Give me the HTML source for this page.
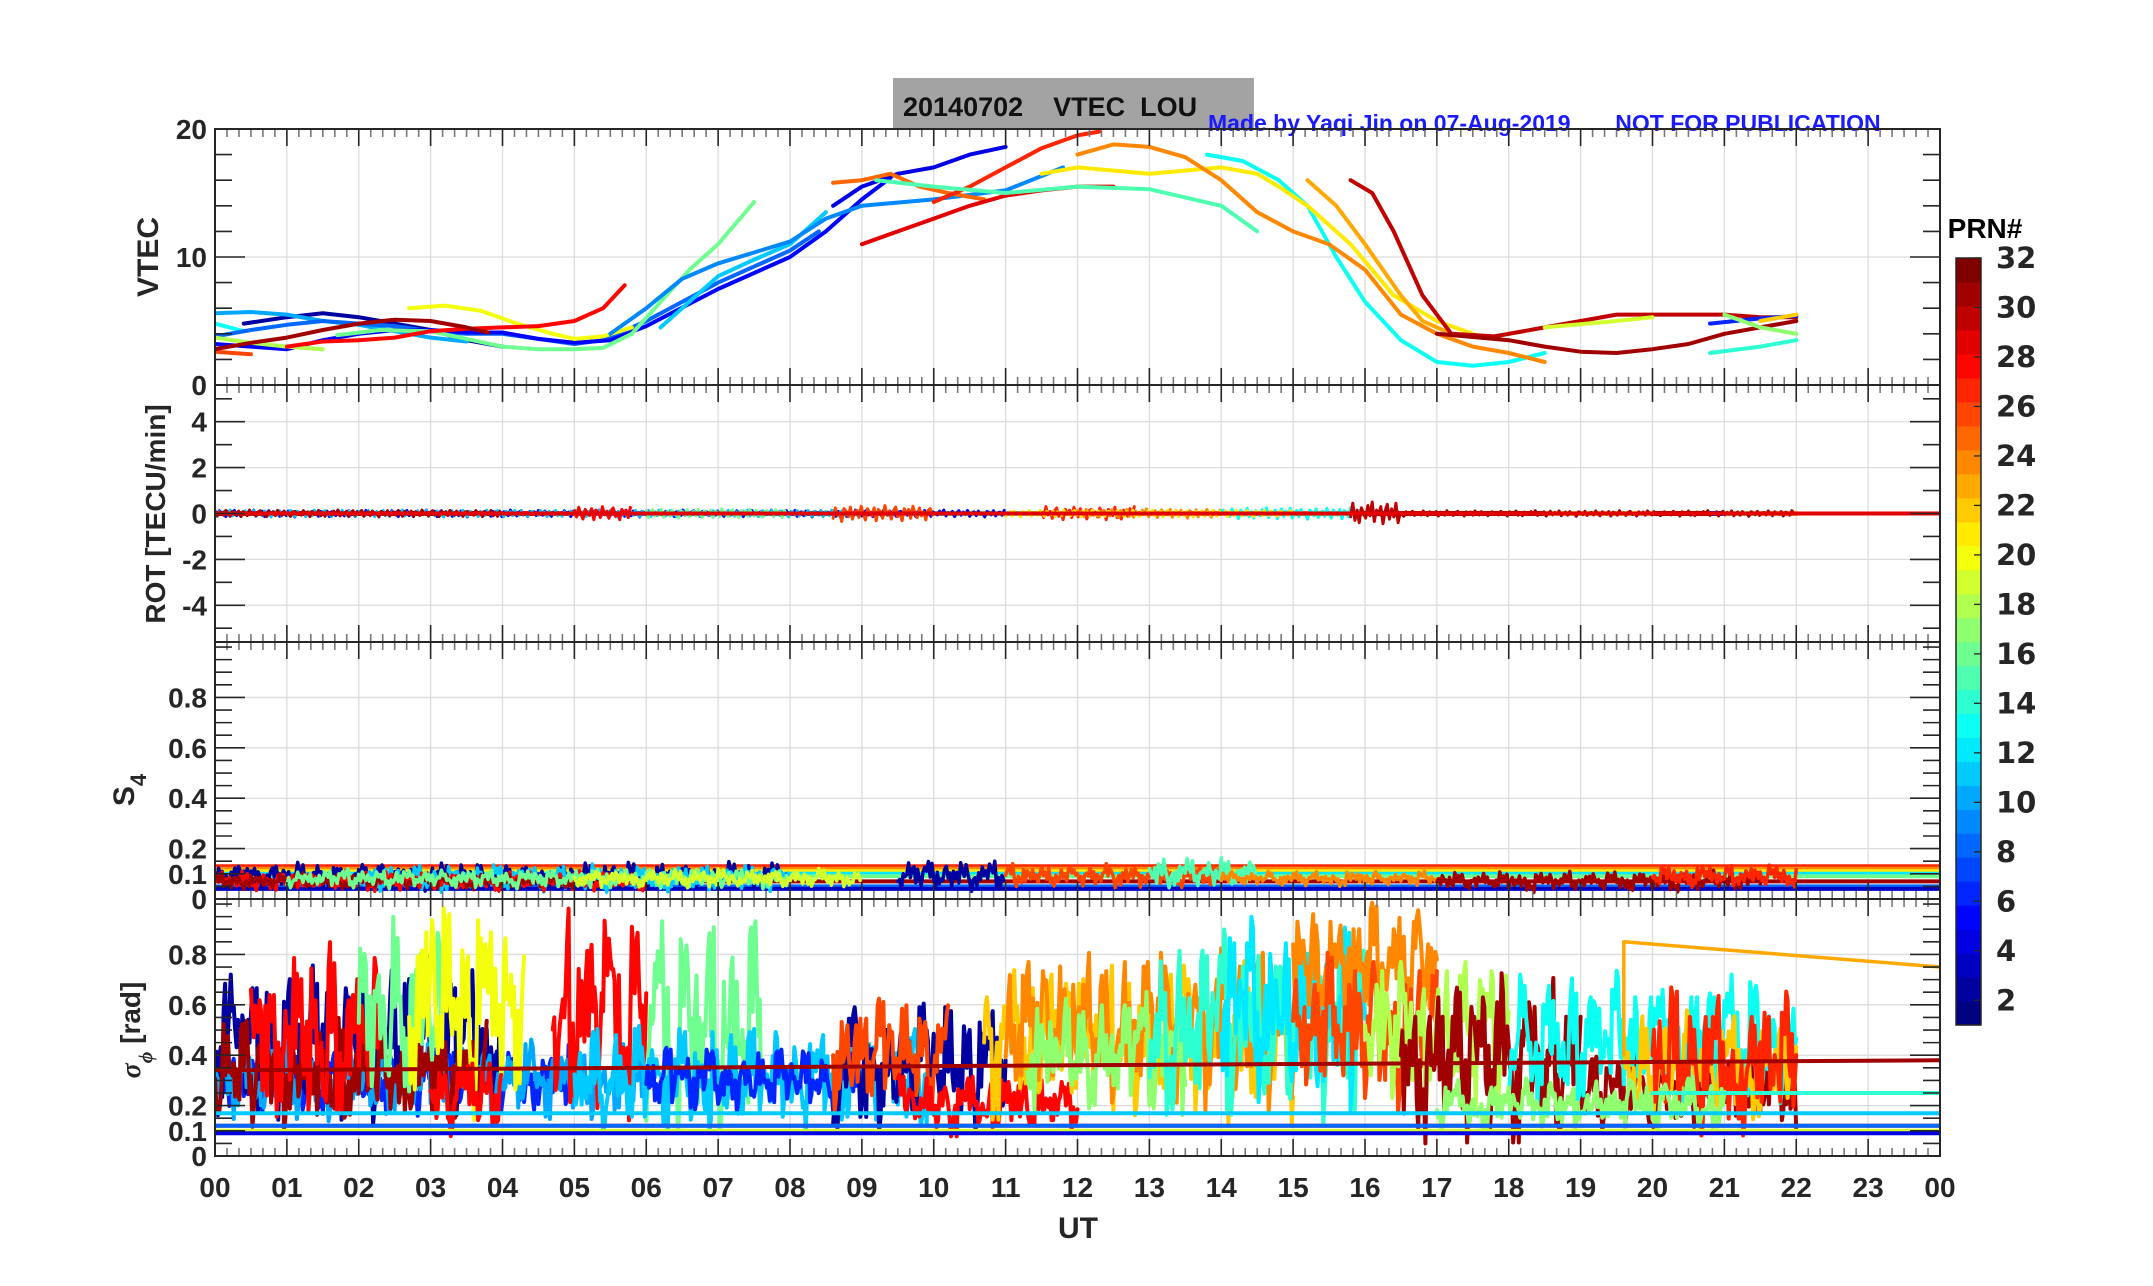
<!DOCTYPE html>
<html><head><meta charset="utf-8">
<style>
html,body{margin:0;padding:0;background:#fff;}
svg{display:block;}
text{font-family:"Liberation Sans Narrow","Liberation Sans",sans-serif;font-weight:bold;fill:#262626;}
</style></head>
<body>
<svg id="chart" width="2153" height="1286" viewBox="0 0 2153 1286" xmlns="http://www.w3.org/2000/svg">
<rect x="893" y="78" width="361" height="52" fill="#a3a3a3"/>
<text x="903" y="116" font-size="27" xml:space="preserve" style="fill:#111;font-family:'Liberation Sans',sans-serif;white-space:pre">20140702    VTEC  LOU</text>
<text x="1208" y="131" font-size="23" xml:space="preserve" style="fill:#1a1aff;font-family:'Liberation Sans',sans-serif;white-space:pre">Made by Yaqi Jin on 07-Aug-2019       NOT FOR PUBLICATION</text>
<g id="plots"></g>
<text x="1078" y="1238" font-size="30" text-anchor="middle" style="font-family:'Liberation Sans',sans-serif">UT</text>
<text transform="translate(158,257) rotate(-90)" font-size="30" text-anchor="middle" style="font-family:'Liberation Sans',sans-serif">VTEC</text>
<text transform="translate(165,514) rotate(-90)" font-size="28" text-anchor="middle" style="font-family:'Liberation Sans',sans-serif">ROT [TECU/min]</text>
<text transform="translate(134,790) rotate(-90)" font-size="30" text-anchor="middle" style="font-family:'Liberation Sans',sans-serif">S<tspan font-size="22" dy="12">4</tspan></text>
<text transform="translate(140,1030) rotate(-90)" font-size="28" text-anchor="middle" style="font-family:'Liberation Sans',sans-serif"><tspan font-style="italic" font-family="Liberation Serif">σ</tspan><tspan font-size="20" dy="12" font-style="italic" font-family="Liberation Serif">ϕ</tspan><tspan dy="-12"> [rad]</tspan></text>
<g id="colorbar"></g>
<text x="1985" y="238" font-size="28" text-anchor="middle" style="fill:#000;font-family:'Liberation Sans',sans-serif">PRN#</text>
</svg>
<script>
// ---- data ----
const hourTicks=["00","01","02","03","04","05","06","07","08","09","10","11","12","13","14","15","16","17","18","19","20","21","22","23","00"];
const vtecTicks=[0,10,20];
const rotTicks=[-4,-2,0,2,4];
const s4Ticks=[0,0.1,0.2,0.4,0.6,0.8];
const sigTicks=[0,0.1,0.2,0.4,0.6,0.8];
const prnTicks=[2,4,6,8,10,12,14,16,18,20,22,24,26,28,30,32];
// VTEC tracks: PRN and [hour,value] points
const vtecPRN=[2,10,13,8,5,18,20,16,26,28,31,11,9,4,25,27,29,15,13,21,24,23,30,31,14,19,6,17,22];
const vtecPts=[
[[0.4,4.8],[1,5.3],[1.5,5.6],[2,5.3],[2.5,4.8],[3,4.3],[3.5,3.5],[4,3.0]],
[[0,5.6],[0.5,5.7],[1,5.5],[1.5,5.0],[2,4.7],[2.5,4.2],[3,3.7],[3.5,3.4]],
[[0,4.8],[0.4,4.2]],
[[0,3.8],[0.5,4.3],[1,4.7],[1.5,5.0],[2,4.8],[2.5,4.6],[3,4.2],[3.5,4.0],[4,4.0],[4.5,3.6],[5,3.2],[5.4,3.5],[6,5.0],[7,8.0],[8,10.5],[8.4,12]],
[[0,3.2],[0.5,3.0],[1,2.8],[1.5,3.5],[2,4.0],[2.5,4.3],[3,4.3],[3.5,4.1],[4,4.1],[4.5,3.6],[5,3.3],[5.5,3.5],[6,4.6],[7,7.5],[8,10],[8.5,12],[9,14.5],[9.4,16.2]],
[[0,3.7],[0.5,3.3],[1,3.0],[1.5,2.8]],
[[2.7,6.0],[3.2,6.2],[3.7,5.8],[4.2,4.8],[4.7,4.0],[5,3.6],[5.4,3.8],[5.8,4.5]],
[[1.7,3.9],[2.3,4.3],[3,4.2],[3.5,3.6],[4,3.0],[4.5,2.8],[5,2.8],[5.4,2.9],[5.8,4],[6.2,6.5],[6.6,9],[7,11],[7.5,14.3]],
[[0,2.6],[0.5,2.4]],
[[1,3.0],[1.5,3.4],[2,3.5],[2.5,3.7],[3,4.2],[3.5,4.4],[4,4.5],[4.5,4.6],[5,5.0],[5.4,6.0],[5.7,7.8]],
[[0,2.8],[0.5,3.3],[1,3.7],[1.5,4.3],[2,4.8],[2.5,5.1],[3,5.0],[3.5,4.5],[3.8,4.1]],
[[6.2,4.5],[6.6,6.5],[7,8.5],[7.5,9.8],[8,11],[8.5,13.5]],
[[5.5,4.0],[6,6],[6.5,8.3],[7,9.5],[8,11.2],[8.5,13],[9,14],[10,14.5],[11,15.2],[11.8,17]],
[[8.6,14],[9,15.5],[9.5,16.5],[10,17],[10.5,18],[11,18.6]],
[[8.6,15.8],[9,16],[9.4,16.5],[9.8,15.5],[10.2,15],[10.7,14.5]],
[[10,14.3],[10.5,15.5],[11,17],[11.5,18.5],[12,19.5],[12.3,19.8]],
[[9,11],[9.5,12],[10,13],[10.5,14],[11,14.8],[11.5,15.2],[12,15.5],[12.5,15.5]],
[[9.2,16],[10,15.5],[11,15],[12,15.5],[13,15.3],[14,14],[14.5,12]],
[[13.8,18],[14.3,17.5],[14.8,16],[15.2,14],[15.6,10],[16,6.5],[16.5,3.5],[17,1.8],[17.5,1.5],[18,1.8],[18.5,2.5]],
[[11.5,16.5],[12,17],[13,16.5],[14,17],[14.5,16.5],[14.8,15.5],[15.2,14],[15.8,11],[16.4,7],[17,5],[17.6,3.8]],
[[12,18],[12.5,18.8],[13,18.6],[13.5,17.8],[14,16],[14.5,13.5],[15,12],[15.5,11],[16,9],[16.5,5.5],[17,4],[17.5,3],[18,2.5],[18.5,1.8]],
[[15.2,16],[15.6,14],[16,11],[16.5,7],[16.8,5],[17.2,4]],
[[15.8,16],[16.1,15],[16.4,12],[16.8,7],[17.2,4],[17.8,3.8],[18.5,4.5],[19,5],[19.5,5.5],[20,5.5],[20.5,5.5],[21,5.5],[21.5,5.3],[22,5.3]],
[[17,4.0],[18,3.5],[18.5,3.0],[19,2.6],[19.5,2.5],[20,2.8],[20.5,3.2],[21,4],[21.5,4.5],[22,5]],
[[20.8,2.5],[21.5,3.0],[22,3.5]],
[[18.5,4.5],[19.5,5.0],[20,5.3]],
[[20.8,4.8],[21.5,5.2],[22,5.4]],
[[21,5.5],[21.5,4.5],[22,4]],
[[21.5,5],[22,5.5]]
];
// noise pattern used by ROT / S4 / sigma traces
const noise=[0.2,-0.5,0.8,-0.1,0.4,-0.9,0.6,0.1,-0.3,0.9,-0.6,0.3,-0.8,0.5,0.0,-0.4,0.7,-0.2,1.0,-0.7,0.3,-0.1,0.6,-0.9,0.2,0.8,-0.5,0.4,-0.3,0.9,-0.8,0.1,0.5,-0.6,0.7,-0.2,0.0,-1.0,0.6,0.3,-0.4,0.8,-0.7,0.2,0.4,-0.5,0.9,-0.1,-0.8,0.6,0.1,-0.3,0.7,-0.9,0.5,0.2,-0.6,1.0,-0.2,0.3,-0.7,0.4,0.8,-0.4,0.1,-0.9,0.6,-0.1,0.5,-0.6,0.9,0.0,-0.5,0.7,-0.3,0.2,-0.8,0.4,0.6,-0.2];
// ROT disturbances: [prn, startHour, endHour, amplitude]
const rotSeg=[[5,0,11,0.15],[11,0,9,0.15],[16,6,8,0.2],[26,8.6,10,0.35],[28,5,5.8,0.3],[27,11.5,12.8,0.3],[24,12,14,0.2],[13,14,16,0.25],[30,15.8,16.5,0.5],[31,16,22,0.12],[21,11,15,0.15],[31,0,4,0.15]];
// S4 baselines (full-length horizontal lines) and noisy segments
const s4BasePRN=[27,24,21,12,16,31,8,3];
const s4BaseVal=[0.13,0.12,0.11,0.1,0.09,0.07,0.05,0.04];
const s4Seg=[[2,0,8,0.09,0.07],[11,2,8,0.08,0.07],[28,0,6,0.07,0.05],[31,0,5,0.07,0.04],[16,1,8,0.08,0.05],[2,9.5,11,0.09,0.08],[26,11,14,0.09,0.06],[15,13,14.5,0.1,0.08],[24,14,17,0.08,0.04],[31,17,21.5,0.07,0.05],[19,5,9,0.08,0.05],[27,20,22,0.09,0.06]];
// sigma-phi noisy segments: [prn, start, end, mean, amplitude]
const sigSeg=[
[6,0,5,0.3,0.13],[2,0,4,0.45,0.3],[10,0,6,0.3,0.15],[31,0,3.8,0.32,0.2],[28,0.5,2.3,0.45,0.35],[16,2,3.2,0.55,0.35],[20,2.7,4.3,0.6,0.4],[28,3,4,0.25,0.15],[28,4.7,6,0.55,0.4],[16,6,7.6,0.5,0.4],[11,5,10,0.3,0.2],[6,6,9,0.3,0.12],[2,8.6,11,0.35,0.25],[26,8.6,10.2,0.4,0.22],[28,9.5,12,0.2,0.12],[22,10.7,15,0.45,0.3],[24,11,15,0.5,0.3],[17,11.3,13.5,0.4,0.22],[14,13,16,0.5,0.35],[12,14,16,0.55,0.35],[24,15,17,0.75,0.25],[26,15,17,0.5,0.3],[18,16,18,0.5,0.3],[31,16.5,19,0.38,0.32],[31,19,22,0.25,0.15],[13,18,22,0.45,0.25],[22,19.6,22,0.35,0.2],[27,20,22,0.35,0.28],[17,17,21,0.2,0.1]];
const sigBasePRN=[31,28,11,8,19,4,14];
const sigBaseStart=[0,0,0,0,0,0,20];
const sigBaseV0=[0.34,0.12,0.17,0.12,0.1,0.09,0.25];
const sigBaseV1=[0.38,0.12,0.17,0.12,0.1,0.09,0.25];
// ---- layout ----
const X0=215,X1=1940;
const panels=[{t:129,b:385,min:0,max:20,ticks:vtecTicks,minor:2,name:'vtec'},
{t:385,b:642,min:-5.6,max:5.6,ticks:rotTicks,minor:1,name:'rot'},
{t:642,b:899,min:0,max:1.02,ticks:s4Ticks,minor:0.05,name:'s4'},
{t:899,b:1156,min:0,max:1.02,ticks:sigTicks,minor:0.05,name:'sigma'}];
const NS='http://www.w3.org/2000/svg';
const xs=h=>X0+(X1-X0)*h/24;
function ys(p,v){return p.b-(v-p.min)/(p.max-p.min)*(p.b-p.t);}
function jet(prn){const t=(prn-1)/31;const c=x=>Math.round(255*Math.max(0,Math.min(1,1.5-Math.abs(4*t-x))));return `rgb(${c(3)},${c(2)},${c(1)})`;}
function el(tag,attrs,parent){const e=document.createElementNS(NS,tag);for(const k in attrs)e.setAttribute(k,attrs[k]);parent.appendChild(e);return e;}
const plots=document.getElementById('plots');
panels.forEach((p,pi)=>{
  const g=el('g',{},plots);
  
  
  const clipId='clip'+pi;
  const cp=el('clipPath',{id:clipId},g);el('rect',{x:X0,y:p.t,width:X1-X0,height:p.b-p.t},cp);
  for(let h=1;h<24;h++)el('line',{x1:xs(h),x2:xs(h),y1:p.t,y2:p.b,stroke:'#dcdcdc','stroke-width':1.3},g);
  p.ticks.forEach(v=>{if(v>p.min&&v<p.max)el('line',{x1:X0,x2:X1,y1:ys(p,v),y2:ys(p,v),stroke:'#dcdcdc','stroke-width':1.3},g);});
  const data=el('g',{'clip-path':`url(#${clipId})`},g);
  
  
  p.data=data;
  const ax=el('g',{stroke:'#262626','stroke-width':1.6},g);
  for(let m=0;m<=24*6;m++){const x=xs(m/6);const L=(m%6===0)?17:8;const c=(m%6===0)?'#262626':'#777';
    el('line',{x1:x,x2:x,y1:p.t,y2:p.t+L,stroke:c},ax);el('line',{x1:x,x2:x,y1:p.b,y2:p.b-L,stroke:c},ax);}
  for(let v=Math.ceil(p.min/p.minor)*p.minor;v<=p.max+1e-9;v+=p.minor){const y=ys(p,v);const maj=p.ticks.some(t=>Math.abs(t-v)<1e-6);
    el('line',{x1:X0,x2:X0+(maj?30:17),y1:y,y2:y},ax);el('line',{x1:X1,x2:X1-(maj?30:17),y1:y,y2:y},ax);}
  el('rect',{x:X0,y:p.t,width:X1-X0,height:p.b-p.t,fill:'none',stroke:'#262626','stroke-width':2},g);
  p.ticks.forEach(v=>{const t=el('text',{x:X0-8,y:ys(p,v)+10,'font-size':28,'text-anchor':'end'},g);t.textContent=String(v);
    
    });
});
hourTicks.forEach((s,i)=>{const t=el('text',{x:xs(i),y:1197,'font-size':28,'text-anchor':'middle'},plots);t.textContent=s;
  
  });
function poly(p,pts,col,w,name){const e=el('polyline',{points:pts.map(q=>q[0].toFixed(1)+','+q[1].toFixed(1)).join(' '),fill:'none',stroke:col,'stroke-width':w,'stroke-linejoin':'round','stroke-linecap':'round'},p.data);
  
  return e;}
// VTEC
vtecPts.forEach((tr,i)=>{poly(panels[0],tr.map(q=>[xs(q[0]),ys(panels[0],q[1])]),jet(vtecPRN[i]),4,'vtec-prn-'+vtecPRN[i]);});
// ROT
vtecPts.forEach((tr,i)=>{const a=tr[0][0],b=tr[tr.length-1][0];poly(panels[1],[[xs(a),ys(panels[1],0)],[xs(b),ys(panels[1],0)]],jet(vtecPRN[i]),5,'rot-prn-'+vtecPRN[i]);});
rotSeg.forEach((s,k)=>{const pts=[];let i=0;for(let h=s[1];h<=s[2];h+=0.03,i++){pts.push([xs(h),ys(panels[1],s[3]*noise[(i+k*11)%noise.length])]);}poly(panels[1],pts,jet(s[0]),3,'rot-trace');});
poly(panels[1],[[xs(0),ys(panels[1],0)],[xs(24),ys(panels[1],0)]],jet(29),4,'rot-baseline');
// S4
s4BaseVal.forEach((v,i)=>poly(panels[2],[[xs(0),ys(panels[2],v)],[xs(24),ys(panels[2],v)]],jet(s4BasePRN[i]),4,'s4-baseline'));
s4Seg.forEach((s,k)=>{const pts=[];let i=0;for(let h=s[1];h<=s[2];h+=0.025,i++){const n=noise[(i+k*7)%noise.length],n2=noise[(Math.floor(i/5)+k*3)%noise.length];pts.push([xs(h),ys(panels[2],s[3]+s[4]*(0.6*n+0.5*n2)*0.8)]);}poly(panels[2],pts,jet(s[0]),3.5,'s4-trace');});
// sigma
sigSeg.forEach((s,k)=>{const pts=[];let i=0;for(let h=s[1];h<=s[2];h+=0.02,i++){const n=noise[(i*3+k*13)%noise.length],n2=noise[(Math.floor(i/6)+k*5)%noise.length];pts.push([xs(h),ys(panels[3],Math.max(0.05,s[3]+s[4]*(0.6*n+0.6*n2)))]);}poly(panels[3],pts,jet(s[0]),4,'sigma-trace-prn-'+s[0]);});
sigBaseV0.forEach((v,i)=>poly(panels[3],[[xs(sigBaseStart[i]),ys(panels[3],v)],[xs(24),ys(panels[3],sigBaseV1[i])]],jet(sigBasePRN[i]),4,'sigma-baseline'));
poly(panels[3],[[xs(19.6),ys(panels[3],0.4)],[xs(19.6),ys(panels[3],0.85)],[xs(24),ys(panels[3],0.75)]],jet(23),3.5,'sigma-prn-23-line');
// colorbar
const cb=document.getElementById('colorbar');
const CB={x:1956,w:25,t:258,b:1025,min:1,max:32};
for(let k=0;k<32;k++){const y1=CB.b-(k+1)*(CB.b-CB.t)/32,y0=CB.b-k*(CB.b-CB.t)/32;
  const r=el('rect',{x:CB.x,y:y1,width:CB.w,height:y0-y1+0.6,fill:jet(k+1)},cb);
  
  }
el('rect',{x:CB.x,y:CB.t,width:CB.w,height:CB.b-CB.t,fill:'none',stroke:'#262626','stroke-width':1.5},cb);
prnTicks.forEach(v=>{const y=CB.b-(v-CB.min)/(CB.max-CB.min)*(CB.b-CB.t);
  el('line',{x1:CB.x+CB.w-7,x2:CB.x+CB.w,y1:y,y2:y,stroke:'#262626','stroke-width':1.3},cb);
  const t=el('text',{x:1996,y:y+10,'font-size':29,style:"font-family:'DejaVu Sans',sans-serif"},cb);t.textContent=String(v);
  
  });
</script>
</body></html>
